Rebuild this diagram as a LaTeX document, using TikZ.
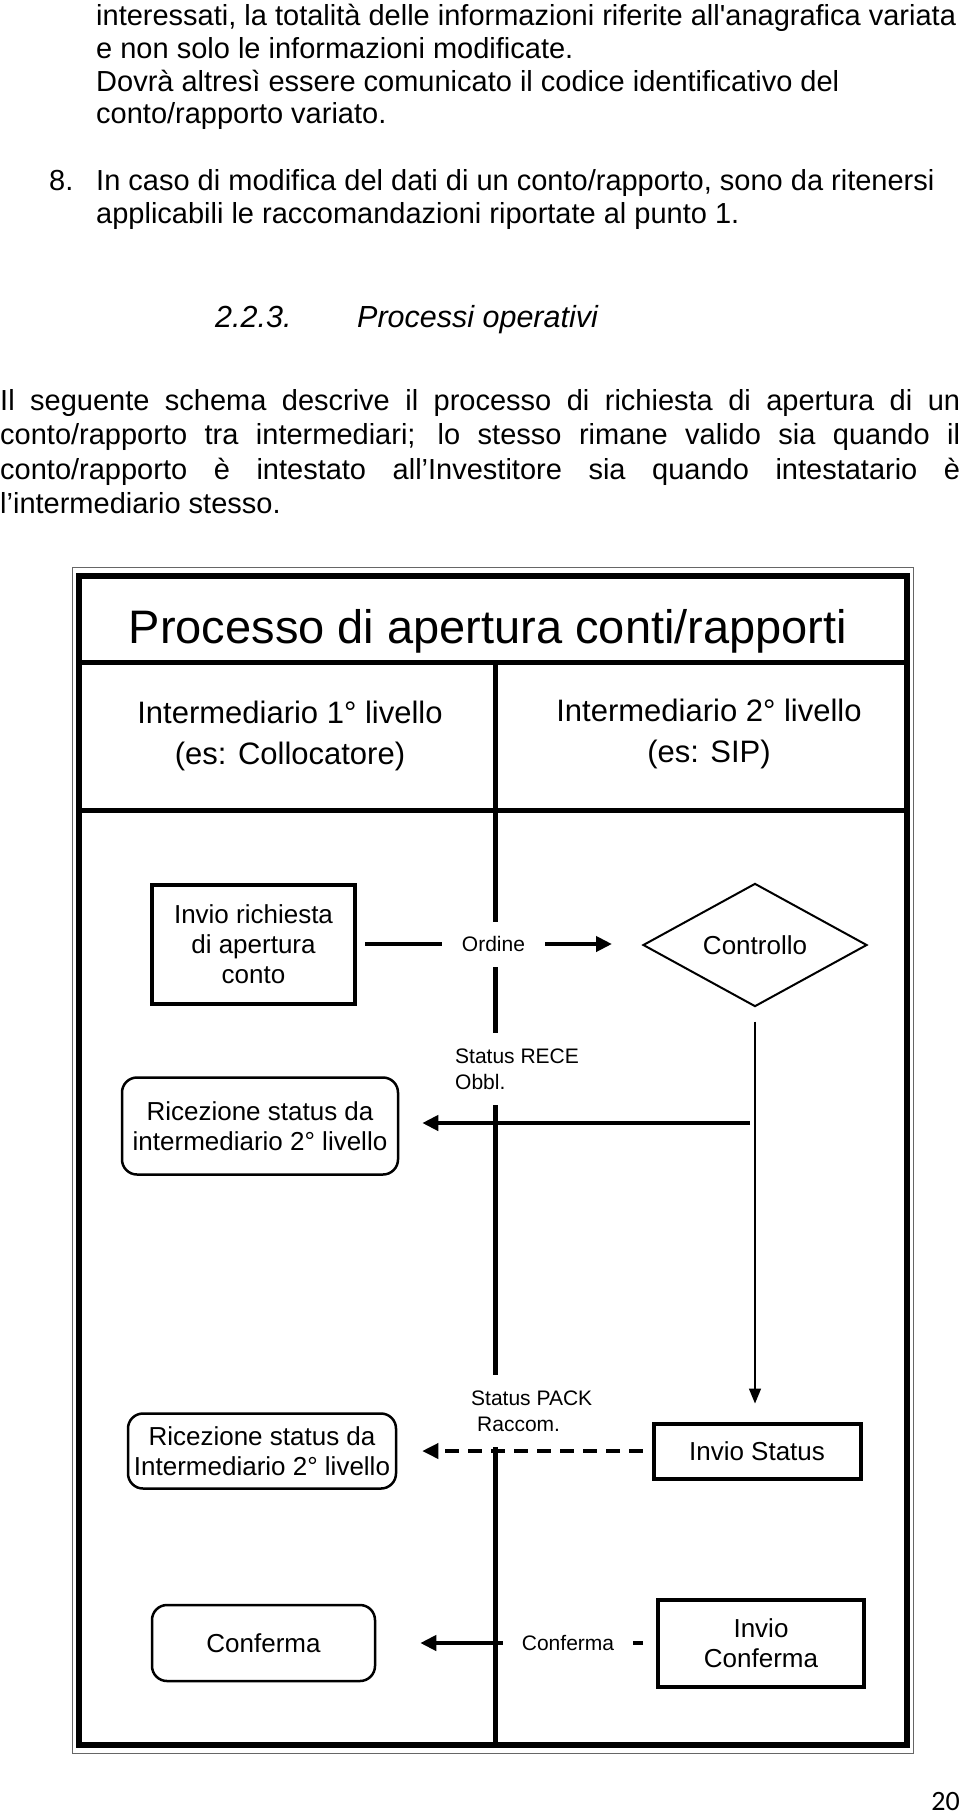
\documentclass[tikz,border=0pt]{standalone}
\usepackage{fontspec}
\setmainfont{Liberation Sans}
\newfontfamily\numfont{Carlito}
\usepackage{tikz}
\usetikzlibrary{arrows.meta,shapes.geometric}
\tolerance=10000

\tikzset{
  passo/.style={draw, line width=4pt, align=center, inner sep=0pt, font=\fontsize{26}{30}\selectfont},
  esito/.style={draw, line width=2.5pt, rounded corners=15pt, align=center, inner sep=0pt, font=\fontsize{26}{30}\selectfont},
  etich/.style={fill=white, inner sep=0pt, font=\fontsize{21}{26}\selectfont},
  intest/.style={align=center, font=\fontsize{31}{41}\selectfont},
  corpo/.style={anchor=base west, inner sep=0pt, font=\fontsize{29}{33}\selectfont},
  spessa/.style={line width=4pt},
}

\begin{document}
\begin{tikzpicture}[x=1pt, y=-1pt, >={Triangle[length=16pt,width=15pt]}]
\useasboundingbox (0,0) rectangle (960,1814);

% Testo della pagina
\node[corpo] (r1) at (96,26) {interessati, la totalità delle informazioni riferite all\textquotesingle anagrafica variata};
\node[corpo] (r2) at (96,59) {e non solo le informazioni modificate.};
\node[corpo] (r3) at (96,92) {Dovrà altresì essere comunicato il codice identificativo del};
\node[corpo] (r4) at (96,124) {conto/rapporto variato.};
\node[corpo] (n8) at (49,191) {8.};
\node[corpo] (r5) at (96,191) {In caso di modifica del dati di un conto/rapporto, sono da ritenersi};
\node[corpo] (r6) at (96,223) {applicabili le raccomandazioni riportate al punto 1.};

% Titolo paragrafo
\node[corpo, font=\fontsize{30.5}{33}\selectfont\itshape] (num) at (215,327) {2.2.3.};
\node[corpo, font=\fontsize{30.5}{33}\selectfont\itshape] (tit) at (357,327) {Processi operativi};

\node[corpo, text width=960pt, align=justify, font=\fontsize{29}{34.5}\selectfont] (descr) at (0,410)
  {Il seguente schema descrive il processo di richiesta di apertura di un\linebreak
   conto/rapporto tra intermediari; lo stesso rimane valido sia quando il\linebreak
   conto/rapporto è intestato all’Investitore sia quando intestatario è\linebreak
   l’intermediario stesso.};

% Cornice
\draw[black!60, line width=1pt] (72.5,567.5) rectangle (913.5,1753);
\draw[line width=6pt] (79,575.5) rectangle (907,1745);
\draw[line width=5pt] (79,662.5) -- (907,662.5);
\draw[line width=5pt] (79,810.5) -- (907,810.5);
\draw[line width=5pt] (495.5,662.5) -- (495.5,1745);

\node[anchor=base, font=\fontsize{47}{50}\selectfont] (titolo) at (488,643) {Processo di apertura conti/rapporti};
\node[intest] (liv1) at (290,736) {Intermediario 1° livello\\(es: Collocatore)};
\node[intest] (liv2) at (709,734) {Intermediario 2° livello\\(es: SIP)};

% Passi
\node[passo, minimum width=203pt, minimum height=119pt] (richiesta) at (253.5,944) {Invio richiesta\\di apertura\\conto};
\node[draw, diamond, line width=2pt, inner sep=0pt, minimum width=224pt, minimum height=118pt,
  font=\fontsize{26}{30}\selectfont] (controllo) at (755,945) {Controllo};
\node[esito, minimum width=276pt, minimum height=97pt] (ricez1) at (260,1126) {Ricezione status da\\intermediario 2° livello};
\node[passo, minimum width=207pt, minimum height=55pt] (inviost) at (757,1451) {Invio Status};
\node[esito, minimum width=268pt, minimum height=75pt] (ricez2) at (262,1451) {Ricezione status da\\Intermediario 2° livello};
\node[esito, minimum width=223pt, minimum height=76pt] (conferma) at (263.5,1643) {Conferma};
\node[passo, minimum width=206pt, minimum height=87pt] (invioconf) at (761,1643) {Invio\\Conferma};

% Flussi
\draw[spessa, ->, shorten <=8pt, shorten >=30pt] (richiesta.east) -- (richiesta.east -| controllo.west);
\node[etich, minimum width=103pt, minimum height=45pt] (ordine) at (493.5,944) {Ordine};

\draw[line width=1.5pt, -{Triangle[length=15pt,width=12pt]}, shorten <=14pt, shorten >=18pt] (controllo.south) -- (controllo.south |- inviost.north);
\coordinate (biforc) at (750,1123);
\draw[spessa, ->, shorten >=23pt] (biforc) -- (biforc -| ricez1.east);
\node[etich, align=left, inner xsep=8pt, minimum height=72pt, anchor=west] (rece) at (447,1069) {Status RECE\\Obbl.};

\draw[line width=3.5pt, dash pattern=on 14pt off 9pt, ->, shorten <=9pt, shorten >=25pt] (inviost.west) -- (ricez2.east);
\node[etich, align=left, inner xsep=8pt, minimum height=72pt, anchor=west] (pack) at (463,1411) {Status PACK\\\hspace*{6pt}Raccom.};

\draw[spessa, ->, shorten <=13pt, shorten >=44pt] (invioconf.west) -- (conferma.east);
\node[etich, minimum width=130pt, minimum height=30pt] (conf) at (568,1643) {Conferma};

% Numero di pagina
\node[anchor=base east, inner sep=0pt, font=\numfont\fontsize{28}{30}\selectfont] (pag) at (960,1810) {20};

\end{tikzpicture}
\end{document}
